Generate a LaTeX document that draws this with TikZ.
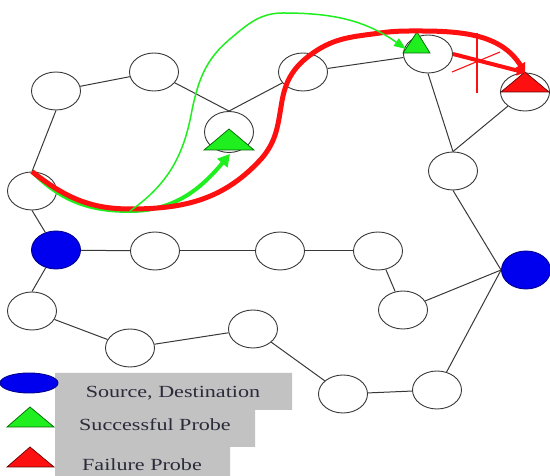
\documentclass[tikz,border=0pt]{standalone}
\usepackage{fontspec}
\setmainfont{Liberation Serif}
\newfontfamily\keyfont{Liberation Serif}
\usetikzlibrary{arrows.meta,positioning,shapes.geometric}
\definecolor{probegreen}{HTML}{1FEE1F}
\definecolor{probered}{HTML}{FF1010}
\definecolor{hostblue}{HTML}{0000EE}
\definecolor{linkgray}{HTML}{383838}
\definecolor{boxgray}{HTML}{C2C2C2}
\definecolor{keyink}{HTML}{2B2B3B}
\newcommand{\legtext}[1]{\scalebox{1.3}[1]{#1}}

\begin{document}
\begin{tikzpicture}[x=1pt,y=1pt,
  host/.style={ellipse,draw=linkgray,line width=0.9pt,fill=white,minimum width=49pt,minimum height=38pt,inner sep=0pt},
  endpoint/.style={host,draw=hostblue!60!black,fill=hostblue},
  link/.style={draw=linkgray,line width=1pt},
  okmark/.style={draw=green!40!black,line width=0.7pt,fill=probegreen},
  failmark/.style={draw=red!40!black,line width=0.7pt,fill=probered},
  keytext/.style={font=\keyfont\fontsize{17}{20}\selectfont,text=keyink,inner sep=0pt}]
  \useasboundingbox (0,0) rectangle (550,476);

  % hosts
  \node[host] (n1) at (56,385) {};
  \node[host] (n2) at (154,404) {};
  \node[host,minimum height=41pt] (n3) at (229,344) {};
  \node[host] (n4) at (32,285) {};
  \node[host] (n5) at (303,404) {};
  \node[host] (n6) at (428,422) {};
  \node[host] (n7) at (525,384) {};
  \node[host] (n8) at (453,305) {};
  \node[endpoint] (src) at (56,226) {};
  \node[host] (n9) at (155,225) {};
  \node[host] (n13) at (280,225) {};
  \node[host] (n14) at (378,225) {};
  \node[host] (n15) at (403,166) {};
  \node[endpoint] (dest) at (526,206) {};
  \node[host] (n10) at (32,165) {};
  \node[host] (n11) at (130,128) {};
  \node[host] (n12) at (253,147) {};
  \node[host] (n16) at (343,82) {};
  \node[host] (n17) at (437,86) {};

  % links
  \draw[link] (n1.south) -- (n4.north);
  \draw[link] (n1) -- (n2);
  \draw[link] (n2) -- (n3.north);
  \draw[link] (n3.north) -- (n5);
  \draw[link] (n5) -- (n6);
  \draw[link] (n6.south) -- (n8.north);
  \draw[link] (n7) -- (n8.north);
  \draw[link] (n8.south) -- (dest.west);
  \draw[link] (n4.south) -- (src);
  \draw[link] (src) -- (n9);
  \draw[link] (n9) -- (n13);
  \draw[link] (n13) -- (n14);
  \draw[link] (n14) -- (n15);
  \draw[link] (n15) -- (dest.west);
  \draw[link] (src) -- (n10.north);
  \draw[link] (n10) -- (n11);
  \draw[link] (n11) -- (n12);
  \draw[link] (n12) -- (n16);
  \draw[link] (n16) -- (n17);
  \draw[link] (n17) -- (dest.west);

  % probe marks
  \filldraw[okmark] ([shift={(-25,-18)}]n3.center) -- ++(50,0) -- ++(-25,21) -- cycle;
  \filldraw[okmark] ([shift={(-25,1)}]n6.center) -- ++(27,0) -- ++(-13,21) -- cycle;
  \filldraw[failmark] ([shift={(-24,0)}]n7.center) -- ++(48,0) -- ++(-24,20) -- cycle;

  \coordinate (fork) at (130,265);
  \coordinate (okA) at ([shift={(1,-22)}]n3.center);
  \coordinate (okB) at ([shift={(-22,5)}]n6.center);

  % probes
  \draw[probegreen,line width=4pt,-{Triangle[length=12pt,width=13pt]}]
    (n4.north) to[out=-45,in=180] (fork) to[out=0,in=-130] (okA);
  \draw[probered,line width=5pt,-{Triangle[length=9pt,width=11pt]}]
    (n4.north) to[out=-38,in=180] ([yshift=2pt]fork) to[out=0,in=-132] (262,318)
    to[out=50,in=-100] (282,375) to[out=80,in=-145] (313,423)
    to[out=35,in=-172] (380,443) to[out=8,in=180] (420,445)
    to[out=0,in=122] (n7.north);
  \draw[probered,line width=4pt,-{Triangle[length=8pt,width=10pt]}] (n6.east) -- (n7.north);
  \draw[probered,line width=1.1pt] (477,443) -- (477,383);
  \draw[probered,line width=1.1pt] (452,404) -- (500,424);
  \draw[probegreen,line width=1.5pt,-{Triangle[length=12pt,width=9pt]}]
    (fork) to[out=35,in=-100] (192,366) to[out=78,in=-140] (230,437)
    to[out=40,in=180] (283,463) to[out=0,in=145] (okB);

  % key
  \fill[boxgray] (55,103) -- (292,103) -- (292,66) -- (255,66) -- (255,29) -- (230,29) -- (230,0) -- (55,0) -- cycle;
  \node[endpoint,minimum width=58pt,minimum height=20pt] (keyhost) at (29,93) {};
  \filldraw[okmark] (7,49) -- (54,49) -- (30,69) -- cycle;
  \filldraw[failmark] (7,9) -- (54,9) -- (30,29) -- cycle;
  \node[keytext] (keysrc) at (173,83) {\legtext{Source, Destination}};
  \node[keytext] (keyok) at (155,51) {\legtext{Successful Probe}};
  \node[keytext] (keyfail) at (142,11) {\legtext{Failure Probe}};
\end{tikzpicture}
\end{document}
